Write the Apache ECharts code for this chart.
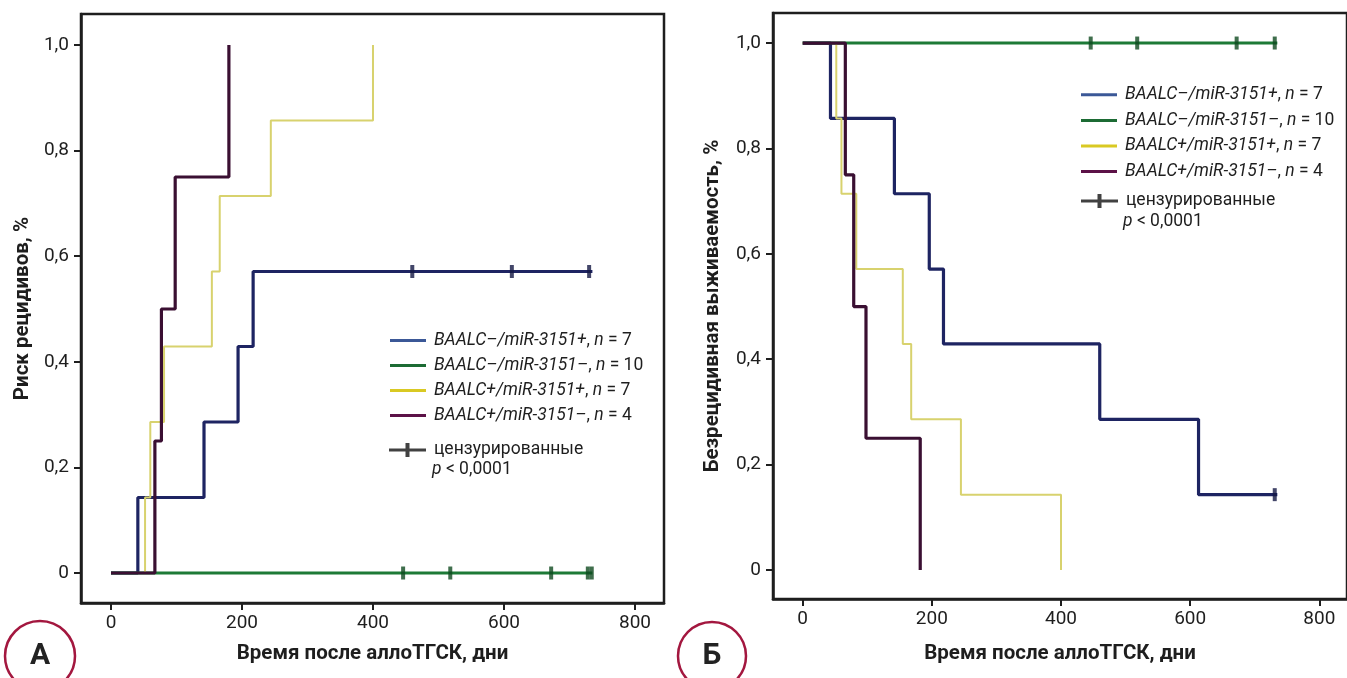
<!DOCTYPE html>
<html lang="ru">
  <head>
    <meta charset="utf-8" />
    <style>
      html, body { margin: 0; width: 100%; height: 100%; background: #fff; }
      #container { width: 1347px; height: 678px; }
    </style>
    <script src="https://cdn.jsdelivr.net/npm/echarts@6.0.0/dist/echarts.min.js"></script>
  </head>
  <body>
    <div id="container"></div>
    <script>
      // group names
      var names = [
        "BAALC–/miR-3151+, n = 7",
        "BAALC–/miR-3151–, n = 10",
        "BAALC+/miR-3151+, n = 7",
        "BAALC+/miR-3151–, n = 4"
      ];
      var censName = "цензурированные";
      var xTicks = [0, 200, 400, 600, 800];
      var yTicks = [0, 0.2, 0.4, 0.6, 0.8, 1.0];

      // A: cumulative relapse risk, [day, value]
      var relapseBlue = [[0, 0], [41, 0.143], [142, 0.286], [194, 0.429], [217, 0.571], [735, 0.571]];
      var relapseGreen = [[0, 0], [735, 0]];
      var relapseYellow = [[0, 0], [52, 0.143], [60, 0.286], [81, 0.429], [154, 0.571], [166, 0.714], [244, 0.857], [400, 1]];
      var relapsePurple = [[0, 0], [67, 0.25], [77, 0.5], [98, 0.75], [180, 1]];
      var relapseBlueCens = [[460, 0.571], [612, 0.571], [730, 0.571]];
      var relapseGreenCens = [[446, 0], [518, 0], [672, 0], [728, 0], [734, 0]];

      // B: relapse-free survival
      var survBlue = [[0, 1], [43, 0.857], [142, 0.714], [196, 0.571], [218, 0.429], [460, 0.286], [613, 0.143], [735, 0.143]];
      var survGreen = [[0, 1], [735, 1]];
      var survYellow = [[0, 1], [52, 0.857], [60, 0.714], [83, 0.571], [155, 0.429], [168, 0.286], [245, 0.143], [400, 0]];
      var survPurple = [[0, 1], [66, 0.75], [79, 0.5], [98, 0.25], [182, 0]];
      var survBlueCens = [[731, 0.143]];
      var survGreenCens = [[446, 1], [518, 1], [672, 1], [731, 1]];

      var lineColors = ["#1e2462", "#1d7a37", "#d8d26e", "#3a0f32"];
      var legendColors = ["#3b5897", "#1c6b34", "#d9c923", "#5c1147"];
      var lineWidths = [3.2, 3, 2, 3.2];
      var censColors = ["#141844", "#0f4a1f"];
      var font = "Roboto";
      var dark = "#1e1e1e";

      var chart = echarts.init(document.getElementById("container"));

      function yLabel(v) {
        return v === 0 ? "0" : v.toFixed(1).replace(".", ",");
      }

      function makeX(idx, min, max, gap) {
        return {
          type: "value", gridIndex: idx, min: min, max: max,
          name: "Время после аллоТГСК, дни", nameLocation: "middle", nameGap: gap,
          nameTextStyle: { fontFamily: font, fontSize: 20.5, fontWeight: "bold", color: dark },
          axisLine: { show: true, onZero: false, lineStyle: { color: dark, width: 2.5 } },
          axisTick: { show: true, length: 7, customValues: xTicks, lineStyle: { color: dark, width: 2 } },
          axisLabel: { customValues: xTicks, margin: 11, fontFamily: font, fontSize: 19, color: dark },
          splitLine: { show: false }
        };
      }

      function makeY(idx, min, max, title, gap) {
        return {
          type: "value", gridIndex: idx, min: min, max: max,
          name: title, nameLocation: "middle", nameGap: gap,
          nameTextStyle: { fontFamily: font, fontSize: 20.5, fontWeight: "bold", color: dark },
          axisLine: { show: true, onZero: false, lineStyle: { color: dark, width: 2.5 } },
          axisTick: { show: true, length: 7, customValues: yTicks, lineStyle: { color: dark, width: 2 } },
          axisLabel: { customValues: yTicks, margin: 12, fontFamily: font, fontSize: 19, color: dark, formatter: yLabel },
          splitLine: { show: false }
        };
      }

      function lines(idx, sets) {
        // draw order: green, yellow, blue, purple
        var order = [1, 2, 0, 3];
        return order.map(function (k) {
          return {
            type: "line", name: names[k], xAxisIndex: idx, yAxisIndex: idx,
            data: sets[k], step: "end", symbol: "none", showSymbol: false,
            color: lineColors[k],
            lineStyle: { color: lineColors[k], width: lineWidths[k] },
            z: 2 + k
          };
        });
      }

      function cens(idx, blue, green) {
        var pts = [];
        blue.forEach(function (p) { pts.push({ value: p, itemStyle: { color: censColors[0] } }); });
        green.forEach(function (p) { pts.push({ value: p, itemStyle: { color: censColors[1] } }); });
        return {
          type: "scatter", name: censName, xAxisIndex: idx, yAxisIndex: idx,
          data: pts, symbol: "rect", symbolSize: [4, 13], color: "#111", z: 10
        };
      }

      var legendText = {
        fontFamily: font, fontSize: 17.5, color: dark, padding: [0, 0, 0, 3],
        rich: { i: { fontFamily: font, fontSize: 17.5, fontStyle: "italic", color: dark } }
      };
      function fmt(name) {
        return name.replace(/^(.*?), n = (\d+)$/, "{i|$1}, {i|n} = $2");
      }
      // plus sign drawn as a filled outline
      var plusIcon = "path://M0,5.5 L16.5,5.5 L16.5,0 L20.5,0 L20.5,5.5 L37,5.5 L37,8.5 L20.5,8.5 L20.5,14 L16.5,14 L16.5,8.5 L0,8.5 Z";

      function groupLegend(left, top, lh) {
        return {
          orient: "vertical", left: left, top: top, itemGap: 0, selectedMode: false,
          icon: "rect", itemWidth: 36, itemHeight: 3,
          data: names.map(function (n, k) { return { name: n, itemStyle: { color: legendColors[k] } }; }),
          formatter: fmt,
          textStyle: Object.assign({ lineHeight: lh }, legendText)
        };
      }
      function censLegend(left, top) {
        return {
          orient: "vertical", left: left, top: top, selectedMode: false,
          icon: plusIcon, itemWidth: 37, itemHeight: 14,
          data: [{ name: censName, itemStyle: { color: "#111" } }],
          textStyle: legendText
        };
      }

      function pText(left, top) {
        return {
          type: "text", left: left, top: top,
          style: {
            text: "{i|p} < 0,0001", fontFamily: font, fontSize: 17.5, fill: dark,
            rich: { i: { fontStyle: "italic", fontFamily: font, fontSize: 17.5, fill: dark } }
          }
        };
      }

      var option = {
        animation: false,
        grid: [
          { left: 81, top: 14, width: 583, height: 589, show: true, borderColor: dark, borderWidth: 2.5 },
          { left: 773, top: 13, width: 580, height: 586, show: true, borderColor: dark, borderWidth: 2.5 }
        ],
        xAxis: [makeX(0, -45.8, 844.3, 40), makeX(1, -46, 842.9, 44)],
        yAxis: [
          makeY(0, -0.0568, 1.0587, "Риск рецидивов, %", 48),
          makeY(1, -0.055, 1.057, "Безрецидивная выживаемость, %", 50)
        ],
        legend: [
          groupLegend(385, 323, 25),
          censLegend(384, 436),
          groupLegend(1076, 77, 25.6),
          censLegend(1076, 187)
        ],
        graphic: [
          pText(432, 461),
          pText(1123, 213),
          { type: "circle", shape: { cx: 40, cy: 656, r: 35 }, style: { fill: "none", stroke: "#a3173f", lineWidth: 2.5 } },
          { type: "text", x: 40, y: 656, style: { text: "А", fontFamily: font, fontSize: 30, fontWeight: "bold", fill: "#222", align: "center", verticalAlign: "middle" } },
          { type: "circle", shape: { cx: 712, cy: 656, r: 34 }, style: { fill: "none", stroke: "#a3173f", lineWidth: 2.5 } },
          { type: "text", x: 712, y: 656, style: { text: "Б", fontFamily: font, fontSize: 30, fontWeight: "bold", fill: "#222", align: "center", verticalAlign: "middle" } }
        ],
        series: []
          .concat(lines(0, [relapseBlue, relapseGreen, relapseYellow, relapsePurple]))
          .concat([cens(0, relapseBlueCens, relapseGreenCens)])
          .concat(lines(1, [survBlue, survGreen, survYellow, survPurple]))
          .concat([cens(1, survBlueCens, survGreenCens)])
      };
      chart.setOption(option);
    </script>
  </body>
</html>
